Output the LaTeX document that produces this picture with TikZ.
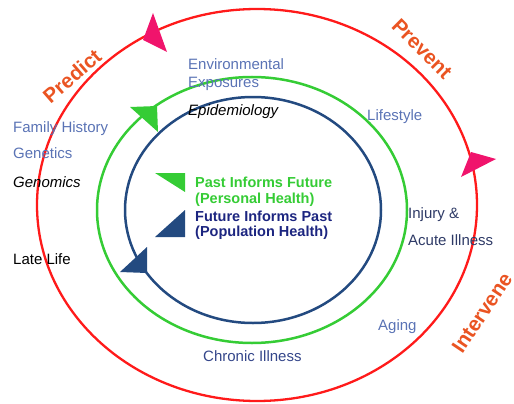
\documentclass[tikz,border=0pt]{standalone}
\usepackage{fontspec}
\setmainfont{Liberation Sans}
\begin{document}
\begin{tikzpicture}[x=1pt,y=-1pt,
  lbl/.style={anchor=base west,inner sep=0pt,font=\fontsize{15}{18}\selectfont},
  soft/.style={lbl,text=softblue},
  verb/.style={inner sep=0pt,font=\fontsize{20.5}{24}\selectfont\bfseries,text=verbred},
  ring/.style={line width=2.5pt}]
\definecolor{softblue}{HTML}{5A73B5}
\definecolor{verbred}{HTML}{EA5422}
\definecolor{ringred}{HTML}{FF1A1A}
\definecolor{ringgreen}{HTML}{35CC35}
\definecolor{ringblue}{HTML}{234A80}
\definecolor{tipred}{HTML}{F0146C}
\definecolor{navytext}{HTML}{1C2580}
\definecolor{darkslate}{HTML}{2E3A66}
\definecolor{chronic}{HTML}{34468A}
\useasboundingbox (0,0) rectangle (514,404);
% rings
\draw[ring,ringred,line width=2.3pt] (257,205) ellipse [x radius=220, y radius=196];
\draw[ring,ringgreen] (252,210) ellipse [x radius=155, y radius=133];
\draw[ring,ringblue] (253,210) ellipse [x radius=128, y radius=113];
% arrowheads
\fill[tipred] (153,13) -- (143,40) -- (167,52) -- cycle;
\fill[tipred] (471,152) -- (496,159) -- (461,177) -- cycle;
\fill[ringgreen] (130,107) -- (157,106) -- (158,132) -- cycle;
\fill[ringblue] (120,272) -- (147,247) -- (147,273) -- cycle;
% legend markers
\fill[ringgreen] (155,173) -- (185,173) -- (185,192) -- cycle;
\fill[ringblue] (155,237) -- (185,210) -- (185,237) -- cycle;
% verbs
\node[verb,rotate=41] (predict) at (72,76) {Predict};
\node[verb,rotate=-45] (prevent) at (422,49) {Prevent};
\node[verb,rotate=56] (intervene) at (482,313) {Intervene};
% labels
\node[soft] (env) at (188,70) {Environmental};
\node[soft] (expo) at (188,88) {Exposures};
\node[lbl,font=\fontsize{15}{18}\selectfont\itshape] (epi) at (188,115) {Epidemiology};
\node[soft] (life) at (367,121) {Lifestyle};
\node[soft] (fam) at (13,132) {Family History};
\node[soft] (gen) at (13,158) {Genetics};
\node[lbl,font=\fontsize{15}{18}\selectfont\itshape] (genom) at (13,187) {Genomics};
\node[lbl] (late) at (13,264) {Late Life};
\node[lbl,font=\fontsize{14.5}{17}\selectfont\bfseries,text=ringgreen] (past1) at (195,187) {Past Informs Future};
\node[lbl,font=\fontsize{14.5}{17}\selectfont\bfseries,text=ringgreen] (past2) at (195,203) {(Personal Health)};
\node[lbl,font=\fontsize{14.5}{17}\selectfont\bfseries,text=navytext] (fut1) at (195,221) {Future Informs Past};
\node[lbl,font=\fontsize{14.5}{17}\selectfont\bfseries,text=navytext] (fut2) at (195,236) {(Population Health)};
\node[lbl,text=darkslate] (inj) at (408,218) {Injury \&};
\node[lbl,text=darkslate] (acute) at (408,245) {Acute Illness};
\node[soft] (aging) at (378,330) {Aging};
\node[lbl,text=chronic] (chron) at (203,361) {Chronic Illness};
\end{tikzpicture}
\end{document}
